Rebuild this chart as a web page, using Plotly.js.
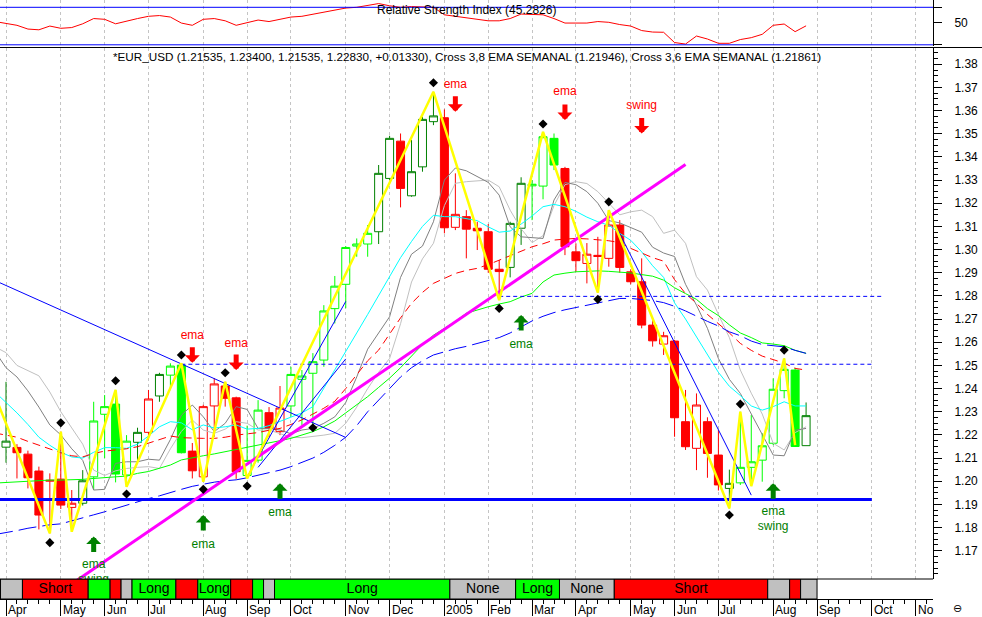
<!DOCTYPE html>
<html><head><meta charset="utf-8">
<script src="https://cdn.plot.ly/plotly-3.0.1.min.js"></script>
<style>html,body{margin:0;padding:0;background:#fff;}#chart{width:982px;height:617px;}</style>
</head><body><div id="chart"></div>
<script>
// ---------- DATA (weekly EUR/USD, week 0 = first week of Apr 2004) ----------
const openP = [1.2147,1.2146,1.2117,1.2044,1.2000,1.2009,1.1887,1.1905,1.2019,1.2289,
1.2333,1.2027,1.2168,1.2211,1.2368,1.2458,1.2501,1.2130,1.2019,1.2325,
1.2411,1.2360,1.2025,1.2091,1.2296,1.2214,1.2325,1.2440,1.2466,1.2523,
1.2745,1.2850,1.3015,1.3024,1.3077,1.3307,1.3468,1.3232,1.3357,1.3552,
1.3569,1.3096,1.3142,1.3092,1.3077,1.2915,1.2923,1.3092,1.3275,1.3274,
1.3480,1.3350,1.2990,1.2940,1.2975,1.2962,1.3106,1.2904,1.2861,1.2674,
1.2592,1.2605,1.2257,1.2142,1.2257,1.2113,1.1969,1.1993,1.2060,1.2091,
1.2164,1.2391,1.2480,1.21535];
const highP = [1.2429,1.2160,1.2132,1.2063,1.2034,1.2214,1.1962,1.2048,1.2343,1.2372,
1.2394,1.2199,1.2231,1.2394,1.2468,1.2509,1.2509,1.2165,1.2330,1.2445,
1.2429,1.2365,1.2240,1.2350,1.2320,1.2411,1.2494,1.2480,1.2553,1.2760,
1.2886,1.3015,1.3048,1.3106,1.3365,1.3491,1.3501,1.3473,1.3573,1.3681,
1.3605,1.3329,1.3170,1.3120,1.3110,1.2955,1.3120,1.3312,1.3300,1.3508,
1.3501,1.3357,1.3027,1.3028,1.3055,1.3170,1.3127,1.2915,1.2962,1.2696,
1.2645,1.2610,1.2394,1.2379,1.2276,1.2221,1.2050,1.2300,1.2286,1.2207,
1.2444,1.2530,1.2490,1.23400];
const lowP = [1.2080,1.2012,1.1969,1.1792,1.1775,1.1880,1.1782,1.1895,1.1962,1.2100,
1.1995,1.1976,1.2088,1.2178,1.2343,1.2393,1.2120,1.2012,1.1998,1.2192,
1.2322,1.2010,1.2012,1.2080,1.2190,1.2199,1.2278,1.2243,1.2235,1.2494,
1.2681,1.2747,1.2969,1.2969,1.3024,1.3300,1.3182,1.3228,1.3336,1.3537,
1.3070,1.3084,1.2962,1.2998,1.2900,1.2782,1.2880,1.3020,1.3127,1.3217,
1.3343,1.2976,1.2904,1.2854,1.2814,1.2926,1.2900,1.2850,1.2660,1.2581,
1.2545,1.2192,1.2135,1.2048,1.2015,1.1960,1.1883,1.1984,1.1979,1.1998,
1.2156,1.2358,1.2150,1.21535];
const closeP = [1.2173,1.2123,1.2015,1.1854,1.2004,1.1897,1.1905,1.2002,1.2260,1.2322,
1.2031,1.2173,1.2211,1.2355,1.2461,1.2497,1.2123,1.2045,1.2322,1.2420,
1.2358,1.2041,1.2090,1.2307,1.2228,1.2316,1.2461,1.2454,1.2516,1.2735,
1.2842,1.3009,1.3024,1.3070,1.3329,1.3480,1.3264,1.3336,1.3562,1.3577,
1.3094,1.3152,1.3088,1.3081,1.2915,1.2905,1.3113,1.3286,1.3282,1.3487,
1.3365,1.3012,1.2952,1.2980,1.2970,1.3106,1.2923,1.2861,1.2674,1.2606,
1.2628,1.2274,1.2149,1.2329,1.2120,1.1984,1.1991,1.2060,1.2084,1.2153,
1.2397,1.2483,1.2150,1.22830];
// candle colour class: R red, D dark green, L light green
const candleTone = ['D','R','R','R','R','R','R','D','L','L',
'L','L','D','R','D','L','L','R','R','R',
'R','R','L','L','R','R','L','L','L','L',
'L','L','L','L','D','D','R','D','D','D',
'R','R','R','R','R','R','D','D','L','L',
'L','R','R','R','R','R','R','R','R','R',
'R','R','R','R','R','R','D','L','L','L',
'L','L','L','D'];

// indicator series, starting at week -1
const rsiLine = [51,
49,46,41,40,45,42,43,48,55,54,
48,52,55,58,59,57,49,46,54,55,
52,46,50,53,51,54,57,58,61,64,
66,69,70,72,75,72,70,71,70.5,70,
60,58,57,55,52,52,55,61,61,60,
55,49,49,49,51,50,47,45,39,37,
36.7,23,21,31.7,27.7,22,22,27,29.5,34,
46,47.7,37.5,45.28];
const cyanLine = [1.2385,
1.2340,1.2295,1.2245,1.2190,1.2155,1.2125,1.2105,1.2100,1.2125,1.2145,
1.2145,1.2142,1.2160,1.2195,1.2235,1.2257,1.2252,1.2222,1.2243,1.2230,
1.2235,1.2243,1.2225,1.2228,1.2240,1.2258,1.2275,1.2295,1.2322,1.2400,
1.2480,1.2560,1.2640,1.2720,1.2800,1.2883,1.2965,1.3035,1.3100,1.3148,
1.3142,1.3142,1.3135,1.3125,1.3098,1.3075,1.3080,1.3110,1.3145,1.3185,
1.3195,1.3185,1.3165,1.3140,1.3120,1.3105,1.3070,1.3040,1.2990,1.2930,
1.2880,1.2770,1.2700,1.2625,1.2545,1.2470,1.2410,1.2370,1.2325,1.2307,
1.2322,1.2343,1.2325,1.2325];
const darkGrayLine = [1.2560,
1.2490,1.2450,1.2390,1.2320,1.2243,1.2200,1.2140,1.2090,1.1962,1.1965,
1.2077,1.2084,1.2084,1.2095,1.2091,1.2180,1.2285,1.2329,1.2278,1.2214,
1.2250,1.2322,1.2310,1.2228,1.2228,1.2221,1.2205,1.2221,1.2228,1.2250,
1.2278,1.2340,1.2450,1.2570,1.2640,1.2710,1.2880,1.2980,1.3015,1.3120,
1.3300,1.3352,1.3340,1.3315,1.3290,1.3235,1.3098,1.3055,1.3050,1.3048,
1.3214,1.3290,1.3280,1.3250,1.3200,1.3125,1.3115,1.3095,1.3075,1.3010,
1.2985,1.2970,1.2850,1.2760,1.2660,1.2530,1.2440,1.2379,1.2290,1.2200,
1.2113,1.2110,1.2220,1.2228];
const lightGrayLine = [1.2580,
1.2555,1.2500,1.2478,1.2455,1.2385,1.2300,1.2230,1.2160,1.2048,1.2025,
1.2045,1.2055,1.2060,1.2063,1.2055,1.2140,1.2215,1.2264,1.2221,1.2207,
1.2225,1.2257,1.2250,1.2221,1.2221,1.2207,1.2190,1.2188,1.2192,1.2199,
1.2207,1.2250,1.2320,1.2400,1.2470,1.2530,1.2680,1.2860,1.2960,1.3027,
1.3190,1.3286,1.3293,1.3297,1.3300,1.3271,1.3170,1.3090,1.3030,1.3060,
1.3190,1.3280,1.3293,1.3285,1.3250,1.3200,1.3150,1.3163,1.3170,1.3142,
1.3070,1.3084,1.3027,1.2883,1.2825,1.2720,1.2620,1.2480,1.2380,1.2290,
1.2164,1.2135,1.2210,1.2235];
const redDashLine = [1.2208,
1.2200,1.2190,1.2172,1.2155,1.2138,1.2123,1.2110,1.2105,1.2120,1.2130,
1.2135,1.2140,1.2149,1.2165,1.2182,1.2195,1.2188,1.2185,1.2185,1.2185,
1.2190,1.2199,1.2205,1.2210,1.2220,1.2228,1.2245,1.2265,1.2290,1.2315,
1.2345,1.2400,1.2460,1.2520,1.2566,1.2638,1.2705,1.2768,1.2815,1.2854,
1.2875,1.2897,1.2910,1.2919,1.2935,1.2955,1.2975,1.2995,1.3012,1.3025,
1.3041,1.3045,1.3048,1.3046,1.3042,1.3038,1.3030,1.3005,1.2985,1.2965,
1.2950,1.2870,1.2810,1.2768,1.2720,1.2680,1.2640,1.2595,1.2565,1.2540,
1.2525,1.2510,1.2487,1.2480];
const greenLine = [1.1992,
1.1995,1.1998,1.2000,1.2003,1.2005,1.2005,1.2005,1.2008,1.2012,1.2017,
1.2019,1.2022,1.2034,1.2042,1.2055,1.2070,1.2092,1.2102,1.2110,1.2118,
1.2127,1.2137,1.2147,1.2155,1.2164,1.2175,1.2185,1.2200,1.2214,1.2235,
1.2260,1.2295,1.2330,1.2365,1.2405,1.2445,1.2490,1.2540,1.2590,1.2630,
1.2660,1.2690,1.2725,1.2740,1.2753,1.2765,1.2775,1.2795,1.2811,1.2860,
1.2890,1.2898,1.2904,1.2906,1.2908,1.2906,1.2904,1.2899,1.2892,1.2885,
1.2868,1.2835,1.2810,1.2785,1.2745,1.2715,1.2675,1.2640,1.2620,1.2597,
1.2592,1.2585,1.2565,1.2552];
const blueDashLine = [1.1770,
1.1777,1.1787,1.1797,1.1806,1.1812,1.1816,1.1828,1.1842,1.1855,1.1868,
1.1883,1.1898,1.1910,1.1925,1.1937,1.1952,1.1965,1.1978,1.1988,1.1996,
1.2002,1.2006,1.2015,1.2025,1.2037,1.2048,1.2063,1.2080,1.2100,1.2125,
1.2155,1.2190,1.2240,1.2300,1.2350,1.2400,1.2450,1.2490,1.2520,1.2545,
1.2560,1.2572,1.2582,1.2595,1.2607,1.2620,1.2640,1.2665,1.2692,1.2712,
1.2728,1.2740,1.2750,1.2760,1.2772,1.2780,1.2789,1.2789,1.2786,1.2780,
1.2771,1.2755,1.2735,1.2712,1.2690,1.2670,1.2645,1.2628,1.2605,1.2590,
1.2585,1.2580,1.2565,1.2552];

// swing zigzag and pivot markers
const zigWeek = [-1,4,5,6,10,11,16,18,20,22,39,45,49,54,55,66,67,68,71,72];
const zigPrice = [1.2368,1.1775,1.2214,1.1782,1.2394,1.1976,1.2509,1.1998,1.2429,1.2012,
1.3681,1.2782,1.3508,1.2814,1.3170,1.1883,1.2300,1.1979,1.2530,1.2156];
const pivotWeek = [4,5,10,11,16,18,20,22,28,39,45,49,54,55,66,67,71];
const pivotPrice = [1.1735,1.2252,1.2434,1.1945,1.2545,1.1965,1.2468,1.1979,1.2231,1.3720,
1.2746,1.3542,1.2785,1.3206,1.1854,1.2333,1.2566];

// drawn trend lines and levels
const trendDownWeek = [-1,31], trendDownPrice = [1.2866,1.2189];
const trendUp1Week = [22,31], trendUp1Price = [1.2019,1.2776];
const trendUp2Week = [23,31], trendUp2Price = [1.2060,1.2528];
const trendDown2Week = [55,68], trendDown2Price = [1.3163,1.1940];
const magentaWeek = [6,62], magentaPrice = [1.1557,1.3367];
const supportWeek = [-1,79], supportPrice = 1.1921;
const resist1Week = [16,79], resist1Price = 1.2505;
const resist2Week = [45,80], resist2Price = 1.2798;
const rsiLevels = [70,20];

// signals
const sellWeek = [17,21,41,51,58];
const sellTip = [1.2511,1.2480,1.3595,1.3559,1.3501];
const sellLabelPrice = [1.2627,1.2592,1.3710,1.3680,1.3619];
const sellLabel = ['ema','ema','ema','ema','swing'];
const buyWeek = [8,18,25,47,70];
const buyTip = [1.1761,1.1854,1.1991,1.2717,1.1991];
const buyLabelWeek = [8,8,18,25,47,70,70];
const buyLabelPrice = [1.1638,1.15735,1.1725,1.1863,1.2588,1.1867,1.1802];
const buyLabel = ['ema','swing','ema','ema','ema','ema','swing'];

// position state bar
const stateFrom = [-0.5,1.5,7.5,9.5,10.5,11.5,15.5,17.5,20.5,22.5,23.5,24.5,40.5,46.5,50.5,55.5,69.5,71.5,72.5];
const stateTo   = [1.5,7.5,9.5,10.5,11.5,15.5,17.5,20.5,22.5,23.5,24.5,40.5,46.5,50.5,55.5,69.5,71.5,72.5,74.0];
const stateName = ['None','Short','Long','Short','None','Long','Short','Long','Short','Long','None','Long','None','Long','None','Short','None','Short','None'];
const stateLabelShown = [0,1,0,0,0,1,0,1,0,0,0,1,1,1,1,1,0,0,0];

// month axis
const monthWeek = [0,5,9,13,18,22,26,31,35,40,44,48,52,57,61,65,70,74,79,83];
const monthLabel = ['Apr','May','Jun','Jul','Aug','Sep','Oct','Nov','Dec','2005','Feb','Mar','Apr','May','Jun','Jul','Aug','Sep','Oct','No'];
const priceTicks = [1.17,1.18,1.19,1.20,1.21,1.22,1.23,1.24,1.25,1.26,1.27,1.28,1.29,1.30,1.31,1.32,1.33,1.34,1.35,1.36,1.37,1.38];

// ---------- BUILD ----------
const FONT = 'Liberation Sans, Arial, Helvetica, sans-serif';
const toneColor = {R:'#ff0000', D:'#008000', L:'#00ff00'};
const stateColor = {Short:'#ff0000', Long:'#00ff00', None:'#c0c0c0'};
const weeks = openP.map((_, i) => i);
const maWeeks = cyanLine.map((_, i) => i - 1);
const XR = [-0.547, 84.58];

function candles(tone){
  const idx = weeks.filter(i => candleTone[i] === tone);
  const c = toneColor[tone];
  return {type:'candlestick', x: idx, open: idx.map(i=>openP[i]), high: idx.map(i=>highP[i]),
    low: idx.map(i=>lowP[i]), close: idx.map(i=>closeP[i]), xaxis:'x', yaxis:'y',
    increasing:{line:{color:c, width:1}, fillcolor:'#ffffff'},
    decreasing:{line:{color:c, width:1}, fillcolor:c},
    whiskerwidth:0, hoverinfo:'skip', showlegend:false};
}
function line(x, y, color, width, dash, axis){
  return {type:'scatter', mode:'lines', x:x, y:y, xaxis:'x', yaxis: axis || 'y',
    line:{color:color, width:width, dash:dash || 'solid'}, hoverinfo:'skip', showlegend:false};
}

const traces = [];
traces.push(line(maWeeks, rsiLine, '#ff0000', 1, 'solid', 'y2'));
['R','D','L'].forEach(t => traces.push(candles(t)));
traces.push(line(maWeeks, lightGrayLine, '#c0c0c0', 1));
traces.push(line(maWeeks, darkGrayLine, '#808080', 1));
traces.push(line(maWeeks, cyanLine, '#00ffff', 1));
traces.push(line(maWeeks, greenLine, '#00ff00', 1));
traces.push(line(maWeeks, redDashLine, '#ff0000', 1, '8px,5px'));
traces.push(line(maWeeks, blueDashLine, '#0000ff', 1, '18px,6px'));
traces.push(line(supportWeek, supportWeek.map(()=>supportPrice), '#0000ff', 3));
traces.push(line(resist1Week, resist1Week.map(()=>resist1Price), '#0000ff', 1, '4px,3px'));
traces.push(line(resist2Week, resist2Week.map(()=>resist2Price), '#0000ff', 1, '4px,3px'));
traces.push(line(trendDownWeek, trendDownPrice, '#0000ff', 1));
traces.push(line(trendUp1Week, trendUp1Price, '#0000ff', 1));
traces.push(line(trendUp2Week, trendUp2Price, '#0000ff', 1));
traces.push(line(trendDown2Week, trendDown2Price, '#0000ff', 1));
traces.push(line(magentaWeek, magentaPrice, '#ff00ff', 3));
traces.push(line(zigWeek, zigPrice, '#ffff00', 2.5));
traces.push({type:'scatter', mode:'markers', x:pivotWeek, y:pivotPrice, xaxis:'x', yaxis:'y',
  marker:{symbol:'diamond', size:7, color:'#000000'}, hoverinfo:'skip', showlegend:false});
traces.push({type:'scatter', mode:'text', x:sellWeek, y:sellLabelPrice, text:sellLabel, xaxis:'x', yaxis:'y',
  textposition:'middle center', textfont:{family:FONT, size:12, color:'#ff0000'}, cliponaxis:true, hoverinfo:'skip', showlegend:false});
traces.push({type:'scatter', mode:'text', x:buyLabelWeek, y:buyLabelPrice, text:buyLabel, xaxis:'x', yaxis:'y',
  textposition:'middle center', textfont:{family:FONT, size:12, color:'#008000'}, cliponaxis:true, hoverinfo:'skip', showlegend:false});

// state bar
traces.push({type:'bar', x: stateFrom.map((f,i)=>(f+stateTo[i])/2), y: stateFrom.map(()=>1), base:0,
  width: stateFrom.map((f,i)=>stateTo[i]-f), xaxis:'x3', yaxis:'y3',
  marker:{color: stateName.map(s=>stateColor[s]), line:{color:'#000000', width:1}},
  hoverinfo:'skip', showlegend:false});
traces.push({type:'scatter', mode:'text', x: stateFrom.map((f,i)=>(f+stateTo[i])/2), y: stateFrom.map(()=>0.5),
  text: stateName.map((s,i)=> stateLabelShown[i] ? s : ''), xaxis:'x3', yaxis:'y3', textposition:'middle center',
  textfont:{family:FONT, size:14, color:'#000000'}, cliponaxis:false, hoverinfo:'skip', showlegend:false});

const annotations = [];
annotations.push({xref:'paper', yref:'paper', x:0.5, y:(599-10)/599, text:'Relative Strength Index (45.2826)',
  showarrow:false, xanchor:'center', yanchor:'middle', font:{family:FONT, size:12, color:'#000'}});
annotations.push({xref:'paper', yref:'paper', x:0.5, y:(599-57)/599,
  text:'*EUR_USD (1.21535, 1.23400, 1.21535, 1.22830, +0.01330), Cross 3,8 EMA SEMANAL (1.21946), Cross 3,6 EMA SEMANAL (1.21861)',
  showarrow:false, xanchor:'center', yanchor:'middle', font:{family:FONT, size:11.7, color:'#000'}});
monthWeek.forEach((w,i) => annotations.push({xref:'x3', yref:'paper', x:w, y:0, xanchor:'left', yanchor:'top', yshift:-2, xshift:0,
  text:monthLabel[i], showarrow:false, font:{family:FONT, size:12, color:'#000'}}));
sellWeek.forEach((w,i) => annotations.push({xref:'x', yref:'y', x:w, y:sellTip[i], ax:0, ay:-17, text:'',
  showarrow:true, arrowhead:1, arrowsize:0.5, arrowwidth:5, arrowcolor:'#ff0000', standoff:0}));
buyWeek.forEach((w,i) => annotations.push({xref:'x', yref:'y', x:w, y:buyTip[i], ax:0, ay:17, text:'',
  showarrow:true, arrowhead:1, arrowsize:0.5, arrowwidth:5, arrowcolor:'#008000', standoff:0}));
annotations.push({xref:'paper', yref:'paper', x:957/933, y:-9/599, text:'\u2296', showarrow:false,
  xanchor:'center', yanchor:'middle', font:{family:'DejaVu Sans', size:11, color:'#000'}});

const shapes = [
  {type:'line', xref:'paper', yref:'paper', x0:0, x1:1.06, y0:(599-47.5)/599, y1:(599-47.5)/599, line:{color:'#000', width:1}},
  {type:'line', xref:'paper', yref:'paper', x0:0, x1:1, y0:20/599, y1:20/599, line:{color:'#000', width:1}}
];
rsiLevels.forEach(v => shapes.push({type:'line', xref:'paper', yref:'y2', x0:0, x1:1, y0:v, y1:v, line:{color:'#0000ff', width:1}}));

const layout = {
  width:982, height:617, margin:{l:0, r:49, t:0, b:18, pad:0},
  paper_bgcolor:'#ffffff', plot_bgcolor:'#ffffff', showlegend:false, hovermode:false,
  boxgap:0.27, boxgroupgap:0,
  font:{family:FONT, size:12, color:'#000'},
  xaxis:{type:'linear', domain:[0,1], range:XR, anchor:'y', showgrid:true, gridcolor:'#c4c4c4', griddash:'3px,3px', gridwidth:1,
    tickmode:'array', tickvals:monthWeek, showticklabels:false, ticks:'', zeroline:false, showline:false,
    rangeslider:{visible:false}, fixedrange:true},
  xaxis3:{type:'linear', domain:[0,1], range:XR, anchor:'y3', showgrid:false, tickmode:'array', tickvals:monthWeek,
    ticks:'outside', ticklen:16, tickcolor:'#000', tickwidth:1, showticklabels:false, showline:true, linecolor:'#000', linewidth:1,
    zeroline:false, minor:{tickmode:'linear', tick0:0, dtick:1, ticks:'outside', ticklen:4, tickcolor:'#000', tickwidth:1, showgrid:false}},
  yaxis:{domain:[20/599, 551/599], range:[1.1578, 1.3870], side:'right', anchor:'x', showgrid:false, zeroline:false,
    tickmode:'array', tickvals:priceTicks, tickformat:'.2f', ticks:'outside', ticklen:8, tickcolor:'#000', tickwidth:1,
    showline:true, linecolor:'#000', linewidth:1, ticklabelstandoff:10, tickfont:{family:FONT, size:12, color:'#000'},
    minor:{tickmode:'linear', tick0:1.17, dtick:0.0025, ticks:'outside', ticklen:4, tickcolor:'#000', tickwidth:1, showgrid:false}},
  yaxis2:{domain:[553/599, 1], range:[18.4, 79.73], side:'right', anchor:'x', showgrid:false, zeroline:false,
    tickmode:'array', tickvals:[20,50,70], ticktext:['','50',''], ticks:'outside', ticklen:8, tickcolor:'#000',
    showline:true, linecolor:'#000', linewidth:1, ticklabelstandoff:10, tickfont:{family:FONT, size:12, color:'#000'}},
  yaxis3:{domain:[0, 20/599], range:[0,1], anchor:'x3', visible:false, fixedrange:true},
  shapes:shapes, annotations:annotations
};
Plotly.newPlot('chart', traces, layout, {displayModeBar:false, staticPlot:true});
</script></body></html>
